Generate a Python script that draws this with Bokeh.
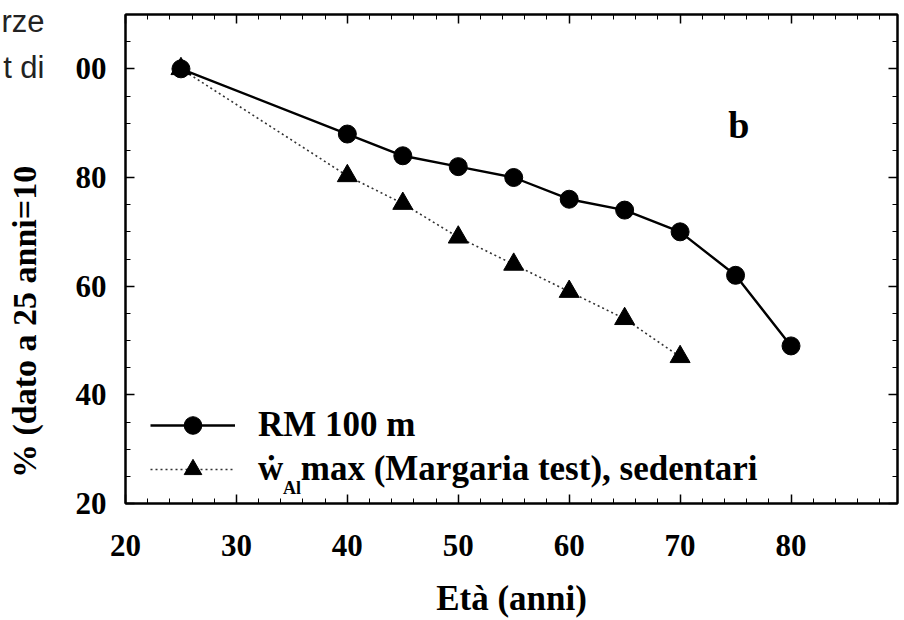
import numpy as np
from bokeh.plotting import figure
from bokeh.models import (LinearAxis, Range1d, Label, Legend, LegendItem,
                          SingleIntervalTicker, FixedTicker)
from bokeh.embed import file_html
from bokeh.resources import INLINE

# data
age_rm = [25, 40, 45, 50, 55, 60, 65, 70, 75, 80]
pct_rm = [100, 88, 84, 82, 80, 76, 74, 70, 62, 49]
age_w = [25, 40, 45, 50, 55, 60, 65, 70]
pct_w = [100, 80.3, 75.2, 69, 64, 59, 54, 47]
label_rm = "RM 100 m"
label_w = "\u1e87\u2002max (Margaria test), sedentari"
x_title = "Età (anni)"
y_title = "% (dato a 25 anni=10"
x_ticks = [20, 30, 40, 50, 60, 70, 80]
y_ticks = [20, 40, 60, 80, 100]
y_tick_overrides = {100: "00"}
# fragments of neighbouring page text seen at the left edge
margin_text_pos = [100.3, 108.7]
margin_text = {100.3: "t di", 108.7: "rze"}

SERIF = "Liberation Serif"

p = figure(width=904, height=620, output_backend="svg", toolbar_location=None,
           x_range=Range1d(20, 89.6), y_range=Range1d(20, 110),
           min_border_left=125, min_border_right=7, min_border_top=14, min_border_bottom=114,
           x_axis_location=None, y_axis_location=None)
p.background_fill_color = "white"
p.border_fill_color = "white"
p.outline_line_color = "black"
p.outline_line_width = 2
p.xgrid.visible = False
p.ygrid.visible = False

def style_axis(ax, show_labels, ticks):
    ax.axis_line_width = 2
    ax.axis_line_color = "black"
    ax.major_tick_in = 9
    ax.major_tick_out = 0
    ax.minor_tick_in = 5
    ax.minor_tick_out = 0
    ax.major_tick_line_width = 1.5
    ax.minor_tick_line_width = 1
    if show_labels:
        ax.major_label_text_font = SERIF
        ax.major_label_text_font_style = "bold"
        ax.major_label_text_font_size = "31px"
        ax.major_label_text_color = "black"
        ax.axis_label_text_font = SERIF
        ax.axis_label_text_font_style = "bold"
        ax.axis_label_text_color = "black"
    else:
        ax.major_label_text_font_size = "0px"
        ax.major_label_standoff = 0
        ax.major_label_overrides = {t: "" for t in ticks}

xb = LinearAxis(ticker=SingleIntervalTicker(interval=10, num_minor_ticks=5))
style_axis(xb, True, x_ticks)
xb.major_label_standoff = 31
xb.axis_label = x_title
xb.axis_label_text_font_size = "35px"
xb.axis_label_standoff = 20
p.add_layout(xb, "below")

xt = LinearAxis(ticker=SingleIntervalTicker(interval=10, num_minor_ticks=5))
style_axis(xt, False, x_ticks)
p.add_layout(xt, "above")

yl = LinearAxis(ticker=SingleIntervalTicker(interval=20, num_minor_ticks=4))
style_axis(yl, True, y_ticks)
yl.major_label_standoff = 19
yl.major_label_overrides = y_tick_overrides
p.add_layout(yl, "left")

# outer left axis: only carries the margin fragments and the y title
ym = LinearAxis(ticker=FixedTicker(ticks=margin_text_pos, minor_ticks=[]))
ym.axis_line_alpha = 0
ym.major_tick_in = 0
ym.major_tick_out = 0
ym.major_tick_line_alpha = 0
ym.major_label_overrides = margin_text
ym.major_label_text_font = "Liberation Sans"
ym.major_label_text_font_size = "31px"
ym.major_label_text_color = "#222222"
ym.major_label_standoff = 28
ym.axis_label = y_title + "\u2003" * 3 + "\u2002\u2009"
ym.axis_label_text_font = SERIF
ym.axis_label_text_font_style = "bold"
ym.axis_label_text_font_size = "34px"
ym.axis_label_text_color = "black"
ym.axis_label_standoff = -45
p.add_layout(ym, "left")

yr = LinearAxis(ticker=SingleIntervalTicker(interval=20, num_minor_ticks=4))
style_axis(yr, False, y_ticks)
p.add_layout(yr, "right")

# triangles first so that the shared first point shows the circle on top
r2l = p.line(age_w, pct_w, line_color="#333333", line_width=1.6, line_dash="2 3")
r2s = p.scatter(age_w, pct_w, marker="triangle", size=20, fill_color="black", line_color="black")
r1l = p.line(age_rm, pct_rm, line_color="black", line_width=2.4)
r1s = p.scatter(age_rm, pct_rm, marker="circle", size=18, fill_color="black", line_color="black")

legend = Legend(items=[LegendItem(label=label_rm, renderers=[r1l, r1s]),
                       LegendItem(label=label_w, renderers=[r2l, r2s])],
                location=(25, 12))
legend.glyph_width = 85
legend.glyph_height = 44
legend.label_standoff = 23
legend.spacing = -7
legend.padding = 0
legend.margin = 0
legend.border_line_alpha = 0
legend.background_fill_alpha = 0
legend.label_text_font = SERIF
legend.label_text_font_style = "bold"
legend.label_text_font_size = "35px"
legend.label_text_color = "black"
p.add_layout(legend)

p.add_layout(Label(x=34.2, y=22.9, text="Al", text_font=SERIF, text_font_style="bold",
                   text_font_size="18px", text_align="left", text_baseline="alphabetic",
                   text_color="black"))
p.add_layout(Label(x=75.3, y=89.7, text="b", text_font=SERIF, text_font_style="bold",
                   text_font_size="38px", text_align="center", text_baseline="middle",
                   text_color="black"))

open("out.html", "w").write(file_html(p, INLINE))
